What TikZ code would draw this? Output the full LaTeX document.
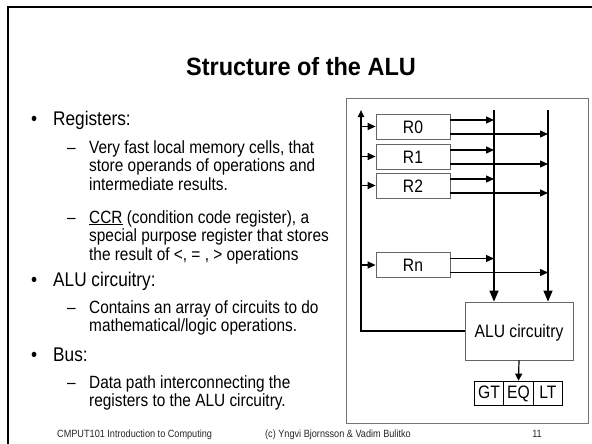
\documentclass[tikz,border=0pt]{standalone}
\usepackage{fontspec}
\setmainfont{Liberation Sans}[FakeStretch=0.87]
\newfontfamily\titlefont{Liberation Sans}[FakeStretch=0.94]
\usetikzlibrary{arrows.meta,calc}
\begin{document}
\begin{tikzpicture}[x=1pt,y=-1pt,
  lone/.style={anchor=base west, inner sep=0pt, font=\fontsize{19.8}{24}\selectfont},
  ltwo/.style={anchor=base west, inner sep=0pt, font=\fontsize{17.7}{20}\selectfont},
  foot/.style={anchor=base west, inner sep=0pt, font=\fontsize{10.5}{12}\selectfont, text=black!85},
  reg/.style={draw=black!60, line width=0.8pt, minimum width=74pt, minimum height=25pt, inner sep=0pt, text height=13pt, text depth=0pt, font=\fontsize{18}{20}\selectfont},
  flag/.style={draw=black, line width=0.7pt, minimum width=29.5pt, minimum height=24pt, inner sep=0pt, text height=13pt, text depth=3pt, font=\fontsize{18}{20}\selectfont},
  arr/.style={line width=1.3pt, -{Triangle[length=8pt,width=7pt]}},
  bigarr/.style={line width=1.6pt, -{Triangle[length=11pt,width=9pt]}},
  busline/.style={line width=1.6pt, -{Triangle[length=7pt,width=6pt]}}]
\useasboundingbox (0,0) rectangle (592,444);
\fill[white] (0,0) rectangle (592,444);
% slide frame
\draw[line width=2pt] (7.5,444) -- (7.5,7.5) -- (592,7.5);
% title
\node[anchor=base, inner sep=0pt] (title) at (301,76) {\titlefont\bfseries\fontsize{25}{28}\selectfont Structure of the ALU};
% body text
\node[lone] (b1) at (31,125) {•};
\node[lone] (t1) at (53,125) {Registers:};
\node[ltwo] (d1) at (67,153) {–};
\node[ltwo] (t2) at (89,153) {Very fast local memory cells, that};
\node[ltwo] (t3) at (89,171.7) {store operands of operations and};
\node[ltwo] (t4) at (89,190) {intermediate results.};
\node[ltwo] (d2) at (67,223) {–};
\node[ltwo] (t5) at (89,223) {\underline{CCR} (condition code register), a};
\node[ltwo] (t6) at (89,241.7) {special purpose register that stores};
\node[ltwo] (t7) at (89,260) {the result of <, = , > operations};
\node[lone] (b2) at (31,286.7) {•};
\node[lone] (t8) at (53,286.7) {ALU circuitry:};
\node[ltwo] (d3) at (67,313) {–};
\node[ltwo] (t9) at (89,313) {Contains an array of circuits to do};
\node[ltwo] (t10) at (89,331.7) {mathematical/logic operations.};
\node[lone] (b3) at (31,361.7) {•};
\node[lone] (t11) at (53,361.7) {Bus:};
\node[ltwo] (d4) at (67,388) {–};
\node[ltwo] (t12) at (89,388) {Data path interconnecting the};
\node[ltwo] (t13) at (89,406.7) {registers to the ALU circuitry.};
% footer
\node[foot] (f1) at (57,437) {CMPUT101 Introduction to Computing};
\node[foot] (f2) at (265,437) {(c) Yngvi Bjornsson \& Vadim Bulitko};
\node[foot, anchor=base] (f3) at (537,437) {11};
% diagram frame
\draw[black!55, line width=0.8pt] (346,98) rectangle (588,423);
% registers
\node[reg] (r0) at (413,126.5) {R0};
\node[reg] (r1) at (413,156.5) {R1};
\node[reg] (r2) at (413,185.5) {R2};
\node[reg] (rn) at (413,265) {Rn};
\node[reg, minimum width=108pt, minimum height=58pt] (alu) at (519,331) {ALU circuitry};
\node[flag] (gt) at (489,393) {GT};
\node[flag] (eq) at (518.5,393) {EQ};
\node[flag] (lt) at (548,393) {LT};
% bus coordinates
\coordinate (bus) at (361,110);
\coordinate (la) at (494,110);
\coordinate (lb) at (548,110);
% bus from ALU back to registers
\draw[busline] (alu.west) -| (bus);
% bus lines into ALU
\draw[bigarr] (la) -- (la |- alu.north);
\draw[bigarr] (lb) -- (lb |- alu.north);
% register inputs and outputs
\foreach \r in {r0,r1,r2,rn}{
  \draw[arr] (\r.west -| bus) -- (\r.west);
  \coordinate (u\r) at ($(\r.east)+(0,-6.5)$);
  \coordinate (d\r) at ($(\r.east)+(0,7.5)$);
  \draw[arr] (u\r) -- (u\r -| la);
  \draw[arr] (d\r) -- (d\r -| lb);
}
% ALU to flags
\draw[line width=1.2pt, -{Triangle[length=7pt,width=7pt]}] (alu.south) -- (eq.north);
\end{tikzpicture}
\end{document}
